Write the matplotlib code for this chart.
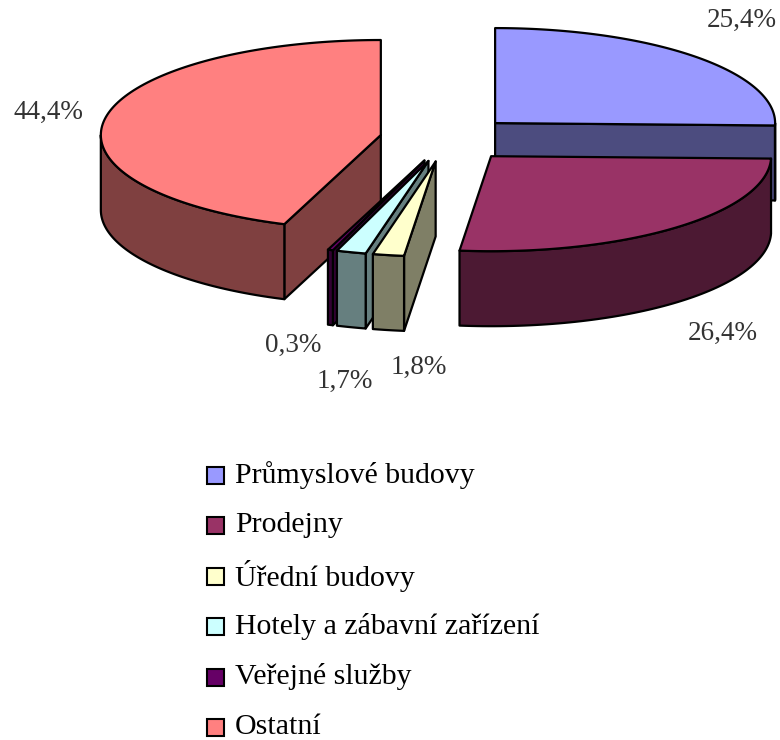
import numpy as np
import matplotlib
matplotlib.use("Agg")
import matplotlib.pyplot as plt
from matplotlib.patches import Polygon, Rectangle

# ---- data ----
categories = ["Průmyslové budovy", "Prodejny", "Úřední budovy",
              "Hotely a zábavní zařízení", "Veřejné služby", "Ostatní"]
values = [25.4, 26.4, 1.8, 1.7, 0.3, 44.4]
value_labels = ["25,4%", "26,4%", "1,8%", "1,7%", "0,3%", "44,4%"]

# ---- style ----
top_colors = ["#9999FF", "#993366", "#FFFFCC", "#CCFFFF", "#660066", "#FF8080"]
side_colors = ["#4C4C7F", "#4C1933", "#7F7F66", "#667F7F", "#330033", "#7F4040"]
label_pos = [(742, 20), (723, 333), (419, 367), (345, 381), (293, 345), (48, 112)]

CX, CY = 447, 139
RX, RY = 280, 95
DEPTH = 75
EXPLODE = 0.24
FONT = "Liberation Serif"

fig = plt.figure(figsize=(7.8, 7.4), dpi=100)
ax = fig.add_axes([0, 0, 1, 1])
ax.set_xlim(0, 780)
ax.set_ylim(740, 0)
ax.axis("off")


def pt(a, b, th):
    return (a + RX * np.sin(th), b - RY * np.cos(th))


total = sum(values)
bounds = np.concatenate([[0], np.cumsum(values)]) / total * 2 * np.pi
slices = []
for i in range(len(values)):
    t1, t2 = bounds[i], bounds[i + 1]
    tm = (t1 + t2) / 2
    a = CX + EXPLODE * RX * np.sin(tm)
    b = CY - EXPLODE * RY * np.cos(tm)
    slices.append((b, i, t1, t2, a))

slices.sort()
z = 1
lw = 1.6
for b, i, t1, t2, a in slices:
    # radial faces (only the ones facing the viewer)
    for th, normal in ((t1, t1 - np.pi / 2), (t2, t2 + np.pi / 2)):
        if np.cos(normal) < -1e-6:
            p = pt(a, b, th)
            poly = [(a, b), p, (p[0], p[1] + DEPTH), (a, b + DEPTH)]
            ax.add_patch(Polygon(poly, closed=True, fc=side_colors[i], ec="black",
                                 lw=lw, zorder=z, joinstyle="round"))
            z += 1
    # outer arc (front half)
    lo, hi = max(t1, np.pi / 2), min(t2, 3 * np.pi / 2)
    if hi > lo:
        ths = np.linspace(lo, hi, 80)
        topp = [pt(a, b, t) for t in ths]
        bot = [(x, y + DEPTH) for x, y in topp][::-1]
        ax.add_patch(Polygon(topp + bot, closed=True, fc=side_colors[i], ec="black",
                             lw=lw, zorder=z, joinstyle="round"))
        z += 1
    # top face
    ths = np.linspace(t1, t2, 120)
    poly = [(a, b)] + [pt(a, b, t) for t in ths]
    ax.add_patch(Polygon(poly, closed=True, fc=top_colors[i], ec="black",
                         lw=lw, zorder=z, joinstyle="round"))
    z += 1

for (x, y), s in zip(label_pos, value_labels):
    ax.text(x, y, s, ha="center", va="center", fontsize=19.5, family=FONT,
            color="#333333", zorder=z)

# legend
leg_y0, leg_dy = 475, 50.5
for k, name in enumerate(categories):
    y = leg_y0 + k * leg_dy
    ax.add_patch(Rectangle((207, y - 8.5), 17, 17, fc=top_colors[k], ec="black",
                           lw=1.5, zorder=z))
    ax.text(235, y, name, ha="left", va="center", fontsize=21.5, family=FONT,
            color="black", zorder=z)

fig.savefig("out.png", dpi=100, facecolor="white")
